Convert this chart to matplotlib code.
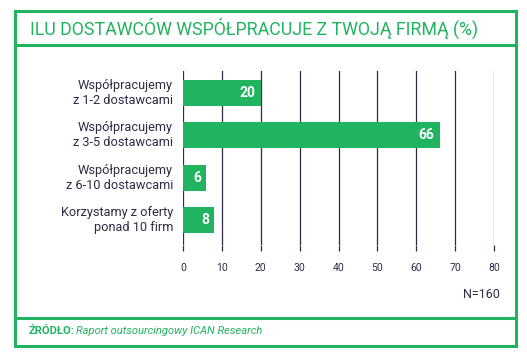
import matplotlib.pyplot as plt
from matplotlib.patches import Rectangle
from matplotlib.lines import Line2D

# dane
kategorie = ['Współpracujemy\nz 1-2 dostawcami', 'Współpracujemy\nz 3-5 dostawcami',
             'Współpracujemy\nz 6-10 dostawcami', 'Korzystamy z oferty\nponad 10 firm']
wartosci = [20, 66, 6, 8]
ticki = [0, 10, 20, 30, 40, 50, 60, 70, 80]

zielony = '#21b35f'
ciemny = '#2e2c45'
W, H = 527, 362

fig = plt.figure(figsize=(W / 100, H / 100), dpi=100)
plt.rcParams['font.family'] = ['Roboto', 'DejaVu Sans']

def px(x, y):
    return x / W, 1 - y / H

# ramka
fig.patches.append(Rectangle(px(15, 346), 501 / W, 335 / H, transform=fig.transFigure,
                             fill=False, edgecolor=zielony, linewidth=2.2))
for yy in (45, 318):
    fig.lines.append(Line2D([15 / W, 516 / W], [1 - yy / H] * 2, transform=fig.transFigure,
                            color=zielony, linewidth=2.2))

# tytul
fig.text(30 / W, 1 - 28 / H, 'ILU DOSTAWCÓW WSPÓŁPRACUJE Z TWOJĄ FIRMĄ (%)',
         color=zielony, fontsize=12.8, va='center', ha='left')

# wykres
ax = fig.add_axes([183 / W, 1 - 245 / H, (494 - 183) / W, (245 - 71) / H])
y = range(len(wartosci))
ax.barh(y, wartosci, height=0.61, color=zielony, zorder=3)
ax.set_xlim(0, 80)
ax.set_ylim(3.59, -0.52)
ax.set_xticks(ticks=ticki)
ax.grid(axis='x', color=ciemny, linewidth=0.9, zorder=0)
for s in ax.spines.values():
    s.set_visible(False)
ax.tick_params(axis='x', length=4, width=0.9, color=ciemny, labelsize=7.5,
               labelcolor=ciemny, pad=9)
ax.set_yticks([])
for i, v in enumerate(wartosci):
    ax.text(v - 1.3, i, str(v), color='white', fontsize=10, fontweight='bold',
            ha='right', va='center', zorder=4)
    ax.text(-2.6, i, kategorie[i], color=ciemny, fontsize=9.2, ha='right', va='center',
            linespacing=1.2)

fig.text(500 / W, 1 - 294 / H, 'N=160', color=ciemny, fontsize=9, ha='right', va='center')

# zrodlo
fig.text(29 / W, 1 - 331 / H, 'ŹRÓDŁO:', color=zielony, fontsize=8, fontweight='bold',
         ha='left', va='center')
fig.text(76 / W, 1 - 331 / H, 'Raport outsourcingowy ICAN Research', color=zielony,
         fontsize=8, style='italic', ha='left', va='center')

fig.savefig('out.png', dpi=100)
